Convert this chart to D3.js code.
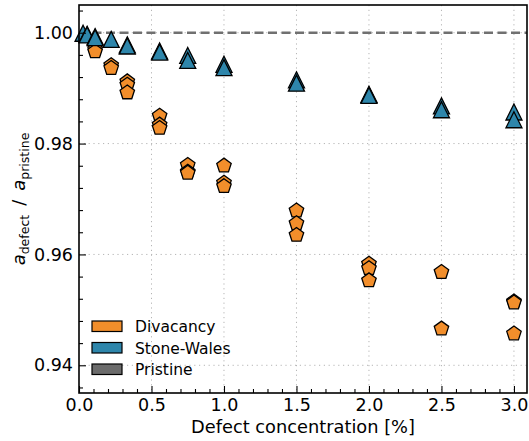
<!DOCTYPE html>
<html>
<head>
<meta charset="utf-8">
<script src="https://cdn.jsdelivr.net/npm/d3@7"></script>
<style>
  body { margin: 0; background: #fff; }
  svg { font-family: "DejaVu Sans", sans-serif; }
</style>
</head>
<body>
<svg id="chart" width="529" height="441"></svg>
<script>
// data
const divX = [0.111, 0.111, 0.222, 0.222, 0.333, 0.333, 0.333, 0.556, 0.556, 0.556,
  0.75, 0.75, 0.75, 1.0, 1.0, 1.0, 1.5, 1.5, 1.5, 2.0, 2.0, 2.0, 2.5, 2.5, 3.0, 3.0, 3.0];
const divY = [0.9970, 0.9966, 0.9941, 0.9936, 0.9912, 0.9906, 0.9892, 0.9850, 0.9834, 0.9828,
  0.9761, 0.9749, 0.9747, 0.9760, 0.9729, 0.9723, 0.9679, 0.9656, 0.9635, 0.9583, 0.9575, 0.9553,
  0.9568, 0.9466, 0.9515, 0.9513, 0.9457];
const swX = [0.028, 0.056, 0.056, 0.111, 0.111, 0.222, 0.333, 0.333, 0.556, 0.556,
  0.75, 0.75, 1.0, 1.0, 1.5, 1.5, 2.0, 2.0, 2.5, 2.5, 3.0, 3.0];
const swY = [0.9999, 0.9997, 0.9996, 0.9993, 0.9991, 0.9988, 0.9978, 0.9976, 0.9967, 0.9965,
  0.9959, 0.9950, 0.9943, 0.9937, 0.9915, 0.9909, 0.9889, 0.9887, 0.9868, 0.9861, 0.9857, 0.9843];
const pristineY = 1.0;
const xTicks = [0, 0.5, 1.0, 1.5, 2.0, 2.5, 3.0];
const yTicks = [0.94, 0.96, 0.98, 1.00];
const legendLabels = ['Divacancy', 'Stone-Wales', 'Pristine'];
const legendColors = ['#f28e2b', '#2e86ab', '#6b6b6b'];

const svg = d3.select('svg#chart');
const mLeft = 79, mRight = 527, mTop = 5, mBottom = 393;

const x = d3.scaleLinear().domain([0, 3.09]).range([mLeft, mRight]);
const y = d3.scaleLinear().domain([0.935, 1.005]).range([mBottom, mTop]);

// grid
const grid = svg.append('g').attr('stroke', '#b5b5b5').attr('stroke-width', 1)
  .attr('stroke-dasharray', '1.2,3.6');
grid.selectAll('line.gx').data(xTicks.slice(1)).enter().append('line')
  .attr('x1', d => x(d)).attr('x2', d => x(d)).attr('y1', mTop).attr('y2', mBottom);
grid.selectAll('line.gy').data(yTicks).enter().append('line')
  .attr('y1', d => y(d)).attr('y2', d => y(d)).attr('x1', mLeft).attr('x2', mRight);

// pristine reference
svg.append('line')
  .attr('x1', mLeft).attr('x2', mRight)
  .attr('y1', y(pristineY)).attr('y2', y(pristineY))
  .attr('stroke', '#707070').attr('stroke-width', 2.6).attr('stroke-dasharray', '9,4.5');

// marker shapes
const pentagon = (r) => {
  const pts = d3.range(5).map(i => {
    const a = -Math.PI / 2 + i * 2 * Math.PI / 5;
    return [r * Math.cos(a), r * Math.sin(a)];
  });
  return 'M' + pts.map(p => p.join(',')).join('L') + 'Z';
};
const triangle = (h) => `M0,${-h}L${h},${h}L${-h},${h}Z`;

const marks = svg.append('g');
marks.selectAll('path.div').data(divX.map((d, i) => [d, divY[i]])).enter().append('path')
  .attr('class', 'div')
  .attr('transform', d => `translate(${x(d[0])},${y(d[1])})`)
  .attr('d', pentagon(7.6))
  .attr('fill', legendColors[0]).attr('stroke', '#000').attr('stroke-width', 1.3)
  .attr('stroke-linejoin', 'miter');
marks.selectAll('path.sw').data(swX.map((d, i) => [d, swY[i]])).enter().append('path')
  .attr('class', 'sw')
  .attr('transform', d => `translate(${x(d[0])},${y(d[1])})`)
  .attr('d', triangle(8))
  .attr('fill', legendColors[1]).attr('stroke', '#000').attr('stroke-width', 1.3)
  .attr('stroke-linejoin', 'miter');

// axes
const xAxis = d3.axisBottom(x).tickValues(xTicks).tickFormat(d3.format('.1f'))
  .tickSize(-7).tickPadding(6);
const xMinor = d3.axisBottom(x).tickValues(d3.range(1, 31).map(d => d / 10).filter(d => Math.round(d * 10) % 5 !== 0))
  .tickSize(-4).tickFormat('');
const yAxis = d3.axisLeft(y).tickValues(yTicks).tickFormat(d3.format('.2f'))
  .tickSize(-7).tickPadding(6);
const yMinor = d3.axisLeft(y).tickValues(d3.range(234, 252).map(d => d * 0.004).filter(d => Math.abs(d / 0.02 - Math.round(d / 0.02)) > 0.01))
  .tickSize(-4).tickFormat('');

const styleAxis = (g) => {
  g.select('.domain').remove();
  g.selectAll('line').attr('stroke', '#000').attr('stroke-width', 1.1);
  g.selectAll('text').attr('font-size', 17.5).attr('fill', '#000')
    .attr('font-family', '"DejaVu Sans", sans-serif');
};
svg.append('g').attr('transform', `translate(0,${mBottom})`).call(xAxis).call(styleAxis);
svg.append('g').attr('transform', `translate(0,${mBottom})`).call(xMinor).call(styleAxis);
svg.append('g').attr('transform', `translate(${mLeft},0)`).call(yAxis).call(styleAxis);
svg.append('g').attr('transform', `translate(${mLeft},0)`).call(yMinor).call(styleAxis);

// frame
svg.append('rect').attr('x', mLeft).attr('y', mTop)
  .attr('width', mRight - mLeft).attr('height', mBottom - mTop)
  .attr('fill', 'none').attr('stroke', '#000').attr('stroke-width', 1.6);

// axis titles
svg.append('text').attr('x', (mLeft + mRight) / 2).attr('y', 433)
  .attr('text-anchor', 'middle').attr('font-size', 17.8)
  .text('Defect concentration [%]');

const yl = svg.append('text')
  .attr('transform', `translate(25,${(mTop + mBottom) / 2}) rotate(-90)`)
  .attr('text-anchor', 'middle').attr('font-size', 18);
yl.append('tspan').attr('font-style', 'italic').text('a');
yl.append('tspan').attr('font-size', 12.5).attr('dy', 4).text('defect');
yl.append('tspan').attr('dy', -4).text('\u2002/\u2002');
yl.append('tspan').attr('font-style', 'italic').text('a');
yl.append('tspan').attr('font-size', 12.5).attr('dy', 4).text('pristine');

// legend
const leg = svg.append('g').attr('transform', 'translate(92,321)');
const rows = leg.selectAll('g').data(legendLabels).enter().append('g')
  .attr('transform', (d, i) => `translate(0,${i * 21.5})`);
rows.append('rect').attr('width', 30).attr('height', 10.5)
  .attr('fill', (d, i) => legendColors[i]).attr('stroke', '#000').attr('stroke-width', 1.2);
rows.append('text').attr('x', 43).attr('y', 11).attr('font-size', 15.5).text(d => d);
</script>
</body>
</html>
